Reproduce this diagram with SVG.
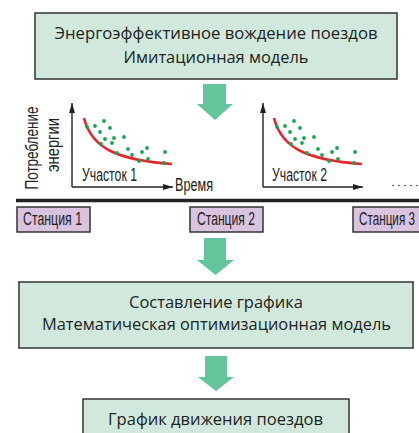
<svg xmlns="http://www.w3.org/2000/svg" width="419" height="433" viewBox="0 0 419 433">
<style>
.box{fill:#d0e9dc;stroke:#333;stroke-width:1.5}
.st{fill:#d9c3df;stroke:#333;stroke-width:1.5}
.main{font-family:"Open Sans","Noto Sans",sans-serif;font-size:15.5px;fill:#222;text-anchor:middle}
.cond{font-family:"Liberation Sans",sans-serif;font-size:17.5px;fill:#222}
.arrow{fill:#64c49c}
.axis{stroke:#222;stroke-width:1.4;fill:none}
.curve{stroke:#e8232a;stroke-width:2.6;fill:none}
.dot{fill:#16a550}
</style>
<defs>
<marker id="ah" viewBox="0 0 10 6" refX="10" refY="3" markerWidth="10" markerHeight="6" markerUnits="userSpaceOnUse" orient="auto">
<path d="M0,0 L10,3 L0,6 Z" fill="#222"/>
</marker>
<g id="dots">
<circle class="dot" cx="87" cy="127" r="1.9"/><circle class="dot" cx="95" cy="126" r="1.9"/>
<circle class="dot" cx="104" cy="121" r="1.9"/><circle class="dot" cx="100" cy="132" r="1.9"/>
<circle class="dot" cx="110" cy="128" r="1.9"/><circle class="dot" cx="105" cy="139" r="1.9"/>
<circle class="dot" cx="114" cy="138" r="1.9"/><circle class="dot" cx="124" cy="137" r="1.9"/>
<circle class="dot" cx="101" cy="144" r="1.9"/><circle class="dot" cx="112" cy="143" r="1.9"/>
<circle class="dot" cx="117" cy="153" r="1.9"/><circle class="dot" cx="128" cy="149" r="1.9"/>
<circle class="dot" cx="132" cy="155" r="1.9"/><circle class="dot" cx="142" cy="152" r="1.9"/>
<circle class="dot" cx="147" cy="148" r="1.9"/><circle class="dot" cx="139" cy="161" r="1.9"/>
<circle class="dot" cx="148" cy="159" r="1.9"/><circle class="dot" cx="165" cy="152" r="1.9"/>
<circle class="dot" cx="164" cy="163" r="1.9"/>
</g>
</defs>

<g id="connectors">
<path class="arrow" d="M203,84 H226 V104 H233 L215,120 L197,104 H203 Z"/>
<path class="arrow" d="M204,238 H226 V260 H234 L215.5,275 L197,260 H204 Z"/>
<path class="arrow" d="M205,356 H227 V377 H234 L216,391 L198,377 H205 Z"/>
</g>

<g id="node-simulation">
<rect class="box" x="35" y="13" width="362" height="66"/>
<text class="main" x="216" y="39" textLength="323" lengthAdjust="spacingAndGlyphs">Энергоэффективное вождение поездов</text>
<text class="main" x="216" y="63" textLength="185" lengthAdjust="spacingAndGlyphs">Имитационная модель</text>
</g>

<g id="chart1">
<text class="cond" transform="translate(38,148) rotate(-90)" text-anchor="middle" textLength="83" lengthAdjust="spacingAndGlyphs">Потребление</text>
<text class="cond" transform="translate(59,145) rotate(-90)" text-anchor="middle" textLength="54" lengthAdjust="spacingAndGlyphs">энергии</text>
<path class="axis" d="M72,187 V103" marker-end="url(#ah)"/>
<path class="axis" d="M72,187 H173" marker-end="url(#ah)"/>
<path class="curve" d="M84,118 C92,150 120,160 172,164"/>
<use href="#dots"/>
<text class="cond" x="82" y="181" textLength="55" lengthAdjust="spacingAndGlyphs">Участок 1</text>
<text class="cond" x="175" y="191" textLength="38" lengthAdjust="spacingAndGlyphs">Время</text>
</g>

<g id="chart2">
<path class="axis" d="M263,187 V103" marker-end="url(#ah)"/>
<path class="axis" d="M263,187 H363" marker-end="url(#ah)"/>
<path class="curve" d="M274,118 C282,150 310,160 362,164"/>
<use href="#dots" transform="translate(190,0)"/>
<text class="cond" x="272" y="181" textLength="55" lengthAdjust="spacingAndGlyphs">Участок 2</text>
<g fill="#333">
<circle cx="393" cy="185.5" r="0.8"/><circle cx="399" cy="185.5" r="0.8"/>
<circle cx="405" cy="185.5" r="0.8"/><circle cx="411" cy="185.5" r="0.8"/>
<circle cx="417" cy="185.5" r="0.8"/>
</g>
</g>

<g id="track">
<line x1="16" y1="200.5" x2="419" y2="200.5" stroke="#222" stroke-width="3.5"/>
</g>

<g id="station1">
<rect class="st" x="17" y="207" width="73" height="25"/>
<text class="cond" x="23" y="225" textLength="59" lengthAdjust="spacingAndGlyphs">Станция 1</text>
</g>
<g id="station2">
<rect class="st" x="190" y="207" width="73" height="25"/>
<text class="cond" x="197" y="225" textLength="58" lengthAdjust="spacingAndGlyphs">Станция 2</text>
</g>
<g id="station3">
<rect class="st" x="353" y="207" width="73" height="25"/>
<text class="cond" x="359" y="225" textLength="56" lengthAdjust="spacingAndGlyphs">Станция 3</text>
</g>

<g id="node-optimization">
<rect class="box" x="19" y="282" width="394" height="66"/>
<text class="main" x="216" y="308" textLength="174" lengthAdjust="spacingAndGlyphs">Составление графика</text>
<text class="main" x="216.5" y="330" textLength="349" lengthAdjust="spacingAndGlyphs">Математическая оптимизационная модель</text>
</g>

<g id="node-schedule">
<rect class="box" x="83" y="399" width="266" height="50"/>
<text class="main" x="215.5" y="425" textLength="215" lengthAdjust="spacingAndGlyphs">График движения поездов</text>
</g>
</svg>
